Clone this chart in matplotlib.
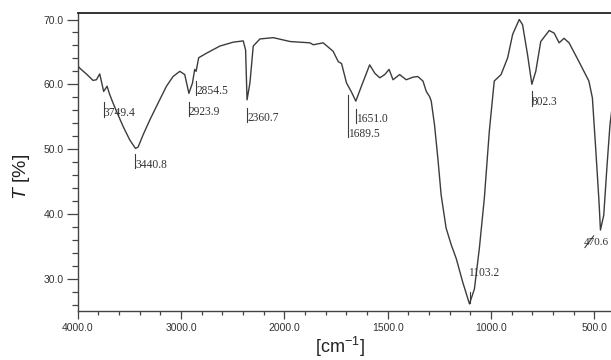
import numpy as np
import matplotlib
matplotlib.use("Agg")
import matplotlib.pyplot as plt
from matplotlib.ticker import FixedLocator, FixedFormatter

plt.rcParams['mathtext.fontset'] = 'custom'
plt.rcParams['mathtext.rm'] = 'Liberation Sans'
plt.rcParams['mathtext.it'] = 'Liberation Sans:italic'

# ---- data ----
wavenumber = [4000, 3981, 3910, 3852, 3819, 3787, 3749, 3716, 3690, 3658, 3610,
              3561, 3496, 3441, 3416, 3367, 3302, 3222, 3141, 3077, 3012, 2964,
              2924, 2889, 2868, 2854, 2829, 2753, 2624, 2495, 2398, 2375, 2361,
              2333, 2301, 2236, 2107, 1972, 1924, 1876, 1860, 1812, 1764, 1739,
              1723, 1699, 1675, 1654, 1627, 1587, 1562, 1538, 1514, 1493, 1474,
              1442, 1410, 1377, 1354, 1329, 1313, 1297, 1289, 1273, 1257, 1241,
              1217, 1192, 1168, 1137, 1104, 1080, 1056, 1032, 1008, 984, 951,
              919, 895, 863, 847, 823, 802, 783, 759, 718, 694, 670, 646, 622,
              574, 526, 509, 493, 477, 470, 454, 438, 424, 400]
transmittance = [62.9, 62.5, 61.5, 60.6, 60.7, 61.6, 58.9, 59.7, 58.4, 57.1, 55.3,
                 53.5, 51.4, 50.1, 50.3, 52.2, 54.5, 57.1, 59.7, 61.2, 62.0, 61.5,
                 58.6, 60.2, 62.3, 62.0, 64.1, 64.8, 65.9, 66.5, 66.7, 65.3, 57.6,
                 60.2, 65.9, 67.0, 67.2, 66.6, 66.5, 66.4, 66.1, 66.4, 65.1, 63.5,
                 63.2, 60.2, 58.8, 57.4, 59.7, 63.0, 61.7, 61.0, 61.5, 62.3, 60.7,
                 61.5, 60.7, 61.1, 61.2, 60.5, 58.9, 58.1, 57.4, 53.7, 48.6, 42.9,
                 37.8, 35.2, 33.1, 29.5, 26.1, 28.4, 34.7, 42.4, 52.7, 60.5, 61.5,
                 64.1, 67.7, 70.0, 69.2, 64.6, 60.0, 62.0, 66.6, 68.3, 67.9, 66.4,
                 67.1, 66.4, 63.5, 60.5, 57.9, 50.1, 41.9, 37.5, 39.8, 47.5, 53.7, 60.0]

peak_labels = ["3749.4", "3440.8", "2923.9", "2854.5", "2360.7",
               "1689.5", "1651.0", "1103.2", "802.3"]
peak_pos = [3749.4, 3440.8, 2923.9, 2854.5, 2360.7, 1689.5, 1651.0, 1103.2, 802.3]
label_y = [55.6, 47.6, 55.7, 58.9, 54.8, 52.4, 54.6, 30.9, 57.3]

xtick_values = [4000, 3000, 2000, 1500, 1000, 500]
xtick_labels = ["4000.0", "3000.0", "2000.0", "1500.0", "1000.0", "500.0"]
ytick_values = [30, 40, 50, 60, 70]
ytick_labels = ["30.0", "40.0", "50.0", "60.0", "70.0"]


def fwd(x):
    x = np.asarray(x, dtype=float)
    return np.where(x >= 2000, x / 1000.0, 2.0 - (2000.0 - x) / 500.0)


def inv(u):
    u = np.asarray(u, dtype=float)
    return np.where(u >= 2, u * 1000.0, 2000.0 - 500.0 * (2.0 - u))


fig = plt.figure(figsize=(6.11, 3.60), dpi=100)
ax = fig.add_axes([0.1272, 0.137, 0.8792, 0.8277])
ax.set_xscale('function', functions=(fwd, inv))
ax.set_xlim(4000, 400)
ax.set_ylim(25.05, 71.05)

line_col = '#3c3c3c'
ax.plot(wavenumber, transmittance, color=line_col, lw=1.0)

# peak labels
for lab, xp, yl in zip(peak_labels, peak_pos, label_y):
    if lab == "1689.5":
        ax.plot([xp, xp], [yl - 0.5, 58.3], color=line_col, lw=0.8)
    elif lab == "1103.2":
        ax.plot([xp, xp], [26.2, 27.9], color=line_col, lw=0.8)
    else:
        ax.plot([xp, xp], [yl - 0.6, yl + 1.6], color=line_col, lw=0.8)
    xt = 1112 if lab == "1103.2" else xp
    ax.text(xt, yl, lab, ha='left', va='center', fontsize=8.3,
            family='Liberation Serif', color='#333333')

# 470.6 label near edge with slanted leader
ax.plot([545, 503], [34.8, 36.6], color=line_col, lw=0.8)
ax.text(553, 35.5, "470.6", ha='left', va='center', fontsize=8,
        family='Liberation Serif', color='#333333')

# ticks
ax.xaxis.set_major_locator(FixedLocator(xtick_values))
ax.xaxis.set_major_formatter(FixedFormatter(xtick_labels))
ax.xaxis.set_minor_locator(FixedLocator([3800, 3600, 3400, 3200, 2800, 2600, 2400, 2200,
                                         1900, 1800, 1700, 1600, 1400, 1300, 1200, 1100,
                                         900, 800, 700, 600, 400]))
ax.yaxis.set_major_locator(FixedLocator(ytick_values))
ax.yaxis.set_major_formatter(FixedFormatter(ytick_labels))
ax.yaxis.set_minor_locator(FixedLocator(list(range(26, 71, 2))))

ax.tick_params(axis='x', which='major', direction='out', length=6, width=0.9,
               color='#444444', labelsize=7.5, labelcolor='#333333', pad=3)
ax.tick_params(axis='x', which='minor', direction='out', length=3.2, width=0.9,
               color='#444444')
ax.tick_params(axis='y', which='major', direction='out', length=8, width=0.9,
               color='#444444', labelsize=7.5, labelcolor='#333333', pad=2)
ax.tick_params(axis='y', which='minor', direction='out', length=4.3, width=0.9,
               color='#444444')
for t in ax.get_xticklabels() + ax.get_yticklabels():
    t.set_family('Liberation Sans')

for s in ['left', 'bottom']:
    ax.spines[s].set_color('#444444')
    ax.spines[s].set_linewidth(1.0)
ax.spines['top'].set_color('#222222')
ax.spines['top'].set_linewidth(1.3)
ax.spines['right'].set_visible(False)

fig.text(22 / 611, 1 - 177 / 360, r"$T$ [%]", rotation=90, ha='center', va='center',
         fontsize=14, family='Liberation Sans', color='#222222')
fig.text(340 / 611, 1 - 353 / 360, r"[cm$^{-1}$]", ha='center', va='baseline',
         fontsize=13, family='Liberation Sans', color='#222222')

fig.savefig("out.png", dpi=100)
